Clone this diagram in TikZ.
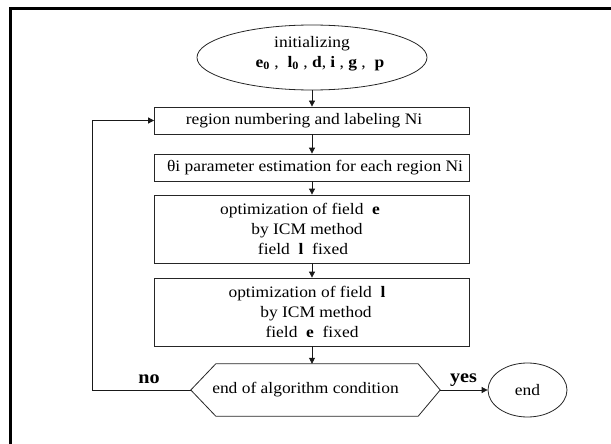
\documentclass[tikz,border=0pt]{standalone}
\usepackage{fontspec}
\setmainfont{Liberation Serif}[FakeStretch=1.09]
\usetikzlibrary{arrows.meta,shapes.geometric}

\begin{document}
\begin{tikzpicture}[x=1pt,y=-1pt,
  txt/.style={font=\fontsize{16}{20}\selectfont},
  box/.style={txt, draw=black!85, line width=0.8pt, rectangle, inner sep=0pt, align=center,
              minimum width=315pt},
  oval/.style={txt, draw=black!85, line width=0.8pt, ellipse, inner sep=0pt, align=center},
  flow/.style={draw=black!90, line width=0.8pt, -{Triangle[length=6pt,width=6pt]}},
  answer/.style={font=\fontsize{18.5}{20}\selectfont\bfseries, inner sep=0pt, anchor=base}]
\useasboundingbox (0,0) rectangle (611,444);

% page frame
\draw[line width=3pt] (10.5,444) -- (10.5,9) -- (611,9);

% start
\node[oval, minimum width=230pt, minimum height=65pt] (init) at (312,57.5) {};
\node[txt, align=center, inner sep=0pt] (initlabel) at (312,53.5)
  {initializing\\ \hspace*{16pt}\textbf{e}\textsubscript{\textbf{0}} , \ \textbf{l}\textsubscript{\textbf{0}} , \textbf{d}, \textbf{i} , \textbf{g} , \ \textbf{p}};

% process steps
\node[box, minimum height=27pt] (number) at (312,120.5)
  {region numbering and labeling Ni\kern16pt};
\node[box, minimum height=27pt] (theta) at (312,167.5)
  {\kern6pt θi parameter estimation for each region Ni};
\node[box, minimum height=68pt] (opte) at (312,229)
  {optimization of field \ \textbf{e}\kern24pt\\ by ICM method\kern10pt\\ field \ \textbf{l} \ fixed\kern18pt};
\node[box, minimum height=68pt] (optl) at (312,312)
  {optimization of field \ \textbf{l}\kern10pt\\ \kern8pt by ICM method\\ field \ \textbf{e} \ fixed};

% stop test: a hexagon drawn round an invisible node
\node[txt, minimum width=249pt, minimum height=52pt, inner sep=0pt] (test) at (315.5,390)
  {end of algorithm condition\kern20pt};
\draw[black!85, line width=0.8pt]
  (test.west) -- ([xshift=25pt]test.north west) -- ([xshift=-22pt]test.north east)
  -- (test.east) -- ([xshift=-22pt]test.south east) -- ([xshift=25pt]test.south west) -- cycle;

% end
\node[oval, minimum width=79pt, minimum height=54pt] (stop) at (527.5,390) {end};

% connectors
\draw[flow] (init) -- (number);
\draw[flow] (number) -- (theta);
\draw[flow] (theta) -- (opte);
\draw[flow] (opte) -- (optl);
\draw[flow] (optl.south) -- (optl.south |- test.north);
\draw[flow] (test.east) -- (stop.west);
\coordinate (back) at (92,390);
\draw[flow] (test.west) -- (back) |- (number.west);

% branch labels
\node[answer] (no) at (149,383) {no};
\node[answer] (yes) at (463.5,382) {yes};
\end{tikzpicture}
\end{document}
